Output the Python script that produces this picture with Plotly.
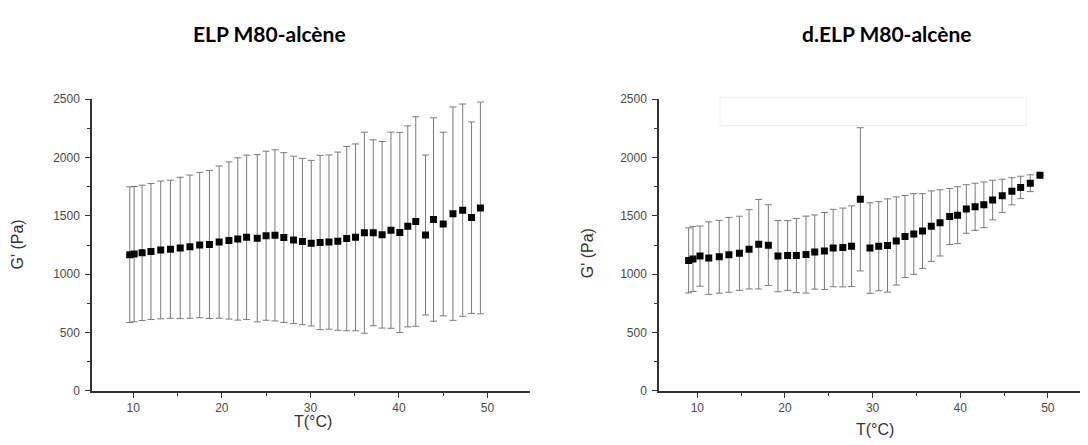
import plotly.graph_objects as go

# ELP M80-alcene : G' vs T, mean +/- sd
t_elp = [9.6, 10.1, 11.0, 12.0, 13.1, 14.2, 15.3, 16.4, 17.5, 18.6,
         19.7, 20.8, 21.8, 22.8, 24.0, 25.0, 26.0, 27.0, 28.1, 29.1,
         30.1, 31.1, 32.1, 33.1, 34.1, 35.1, 36.1, 37.1, 38.1, 39.1,
         40.1, 41.0, 41.9, 43.0, 43.9, 45.0, 46.1, 47.2, 48.2, 49.2]
g_elp = [1167, 1172, 1183, 1194, 1208, 1214, 1225, 1236, 1250, 1255,
         1275, 1289, 1302, 1316, 1308, 1330, 1333, 1314, 1294, 1280,
         1266, 1272, 1275, 1283, 1305, 1316, 1355, 1355, 1338, 1377,
         1358, 1410, 1452, 1336, 1469, 1430, 1519, 1549, 1485, 1568]
sd_elp = [582, 580, 580, 583, 591, 592, 606, 614, 623, 635,
          653, 674, 696, 705, 717, 725, 734, 728, 718, 713,
          710, 747, 747, 764, 790, 801, 862, 797, 800, 841,
          858, 862, 898, 686, 872, 787, 915, 910, 821, 908]

# d.ELP M80-alcene
t_delp = [9.0, 9.5, 10.3, 11.3, 12.5, 13.6, 14.8, 15.9, 17.0, 18.1,
          19.2, 20.3, 21.3, 22.4, 23.4, 24.5, 25.5, 26.6, 27.6, 28.6,
          29.7, 30.7, 31.7, 32.7, 33.7, 34.7, 35.7, 36.7, 37.7, 38.8,
          39.7, 40.7, 41.7, 42.7, 43.7, 44.8, 45.9, 46.9, 48.0, 49.1]
g_delp = [1118, 1130, 1155, 1138, 1149, 1166, 1179, 1213, 1257, 1249,
          1155, 1160, 1160, 1168, 1190, 1199, 1224, 1229, 1240, 1642,
          1224, 1240, 1246, 1285, 1323, 1345, 1370, 1412, 1440, 1495,
          1506, 1559, 1578, 1595, 1636, 1672, 1711, 1744, 1780, 1849]
sd_delp = [279, 278, 258, 311, 312, 321, 318, 340, 384, 346,
           306, 299, 318, 330, 318, 330, 332, 338, 346, 614,
           388, 382, 400, 378, 352, 346, 320, 302, 284, 240,
           244, 208, 202, 196, 170, 142, 116, 96, 72, 0]

W, H = 1088, 445
OFF = 8  # page body margin shifts the figure by 8px

def px(x):
    return (x - OFF) / W

def py(y):
    return 1 - (y - OFF) / H

fig = go.Figure()
for t, g, sd, xa, ya in [(t_elp, g_elp, sd_elp, 'x', 'y'),
                         (t_delp, g_delp, sd_delp, 'x2', 'y2')]:
    fig.add_trace(go.Scatter(
        x=t, y=g, mode='markers', xaxis=xa, yaxis=ya,
        marker=dict(symbol='square', size=7, color='black'),
        error_y=dict(type='data', array=sd, visible=True,
                     color='#7a7a7a', thickness=1, width=3.5),
        showlegend=False))

axis_common = dict(showline=True, linecolor='#333333', linewidth=1.5,
                   showgrid=False, zeroline=False, ticks='outside',
                   ticklen=5, tickwidth=1.2, tickcolor='#333333',
                   tickfont=dict(family='Liberation Sans, Arial', size=12,
                                 color='#4a4a4a'))
minor_x = dict(dtick=5, ticks='outside', ticklen=3, tickcolor='#333333')
minor_y = dict(dtick=250, ticks='outside', ticklen=3, tickcolor='#333333')

ydom = [py(396), py(95)]
fig.update_layout(
    width=W, height=H, margin=dict(l=0, r=0, t=0, b=0),
    plot_bgcolor='white', paper_bgcolor='white',
    xaxis=dict(domain=[px(92), px(530)], range=[5.34, 54.8], dtick=10,
               tick0=0, anchor='y', minor=minor_x, **axis_common),
    yaxis=dict(domain=ydom, range=[0, 2500], dtick=500, anchor='x',
               ticklabelstandoff=3, minor=minor_y, **axis_common),
    xaxis2=dict(domain=[px(659), 1.0], range=[5.62, 55.5], dtick=10,
                tick0=0, anchor='y2', minor=minor_x, **axis_common),
    yaxis2=dict(domain=ydom, range=[0, 2500], dtick=500, anchor='x2',
                ticklabelstandoff=3, minor=minor_y, **axis_common),
)

title_font = dict(family='Lato, Liberation Sans, sans-serif',
                  size=21, color='black')
label_font = dict(family='Liberation Sans, Arial', size=16, color='#333333')

annos = [
    dict(text='<b>ELP M80-alcène</b>', x=px(269), y=py(27), font=title_font),
    dict(text='<b>d.ELP M80-alcène</b>', x=px(887), y=py(27), font=title_font),
    dict(text='T(°C)', x=px(313), y=py(428), font=label_font),
    dict(text='T(°C)', x=px(875), y=py(436), font=label_font),
    dict(text="G' (Pa)", x=px(18), y=py(245), font=label_font, textangle=-90),
    dict(text="G' (Pa)", x=px(587), y=py(254), font=label_font, textangle=-90),
]
for a in annos:
    fig.add_annotation(xref='paper', yref='paper', showarrow=False,
                       xanchor='center', yanchor='middle', **a)

# faint ghost legend frame in the right panel
fig.add_shape(type='rect', xref='paper', yref='paper',
              x0=px(720), x1=px(1026), y0=py(122), y1=py(93),
              line=dict(color='#f0f0f0', width=1))

fig.write_html("out.html")
